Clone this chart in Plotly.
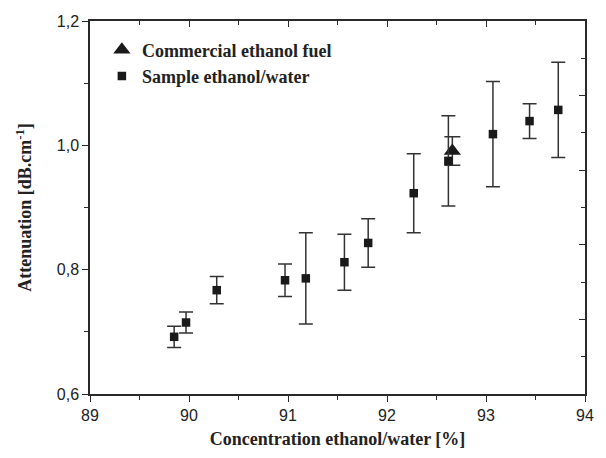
import plotly.graph_objects as go

# Sample ethanol/water
sample_x = [89.85, 89.97, 90.28, 90.97, 91.18, 91.57, 91.81, 92.27, 92.62, 93.07, 93.44, 93.73]
sample_y = [0.692, 0.715, 0.767, 0.783, 0.786, 0.812, 0.843, 0.923, 0.975, 1.018, 1.039, 1.057]
sample_err = [0.017, 0.017, 0.022, 0.026, 0.0735, 0.045, 0.039, 0.0635, 0.0727, 0.0847, 0.028, 0.0767]

# Commercial ethanol fuel
fuel_x = [92.66]
fuel_y = [0.991]
fuel_err = [0.023]

x_ticks = [89, 90, 91, 92, 93, 94]
y_ticks = [0.6, 0.8, 1.0, 1.2]

LINE = "#2a2a2a"
TICKFONT = dict(family="Liberation Sans, Arial, sans-serif", size=16, color="#222")
TITLEFONT = dict(family="Liberation Serif, Times New Roman, serif", size=18, color="#222")

fig = go.Figure()

fig.add_trace(go.Scatter(
    x=fuel_x, y=fuel_y, mode="markers", name="<b>Commercial ethanol fuel</b>",
    marker=dict(symbol="triangle-up", size=15, color="#1a1a1a"),
    error_y=dict(type="data", array=fuel_err, visible=True, color="#333", thickness=1.5, width=8),
))
fig.add_trace(go.Scatter(
    x=sample_x, y=sample_y, mode="markers", name="<b>Sample ethanol/water</b>",
    marker=dict(symbol="square", size=8.5, color="#1a1a1a"),
    error_y=dict(type="data", array=sample_err, visible=True, color="#333", thickness=1.5, width=7),
))
# invisible trace to activate the mirrored axes
fig.add_trace(go.Scatter(x=[x_ticks[0]], y=[y_ticks[0]], xaxis="x2", yaxis="y2",
                         mode="markers", marker=dict(opacity=0), showlegend=False, hoverinfo="skip"))

fig.update_layout(
    width=606, height=458,
    margin=dict(l=90, r=15, t=21, b=64),
    paper_bgcolor="white", plot_bgcolor="white",
    separators=",.",
    showlegend=True,
    legend=dict(x=0.024, y=0.972, xanchor="left", yanchor="top",
                font=dict(family="Liberation Serif, Times New Roman, serif", size=18, color="#222"),
                bgcolor="rgba(0,0,0,0)", borderwidth=0, tracegroupgap=0, itemsizing="trace"),
    xaxis=dict(range=[89, 94], tickvals=x_ticks, ticks="outside", ticklen=6, tickwidth=1.3,
               tickcolor=LINE, showline=True, linecolor=LINE, linewidth=1.5, showgrid=False,
               zeroline=False, tickfont=TICKFONT,
               minor=dict(dtick=0.5, tick0=89, ticks="outside", ticklen=4, tickwidth=1.3, tickcolor=LINE),
               title=dict(text="<b>Concentration ethanol/water [%]</b>", font=TITLEFONT, standoff=9)),
    yaxis=dict(range=[0.6, 1.2], tickvals=y_ticks, tickformat=".1f", ticks="outside", ticklen=6,
               tickwidth=1.3, tickcolor=LINE, showline=True, linecolor=LINE, linewidth=1.5,
               showgrid=False, zeroline=False, tickfont=TICKFONT,
               minor=dict(dtick=0.1, tick0=0.6, ticks="outside", ticklen=4, tickwidth=1.3, tickcolor=LINE),
               title=dict(text="<b>Attenuation [dB.cm<sup>-1</sup>]</b>", font=TITLEFONT, standoff=20)),
    xaxis2=dict(overlaying="x", side="top", range=[89, 94], tickvals=x_ticks, ticks="inside",
                ticklen=6, tickwidth=1.3, tickcolor=LINE, showline=True, linecolor=LINE, linewidth=1.5,
                showticklabels=False, showgrid=False, zeroline=False,
                minor=dict(dtick=0.5, tick0=89, ticks="inside", ticklen=4, tickwidth=1.3, tickcolor=LINE)),
    yaxis2=dict(overlaying="y", side="right", range=[0.6, 1.2], dtick=0.12, tick0=0.6, ticks="inside",
                ticklen=6, tickwidth=1.3, tickcolor=LINE, showline=True, linecolor=LINE, linewidth=1.5,
                showticklabels=False, showgrid=False, zeroline=False,
                minor=dict(dtick=0.06, tick0=0.6, ticks="inside", ticklen=4, tickwidth=1.3, tickcolor=LINE)),
)

fig.write_html("out.html")
